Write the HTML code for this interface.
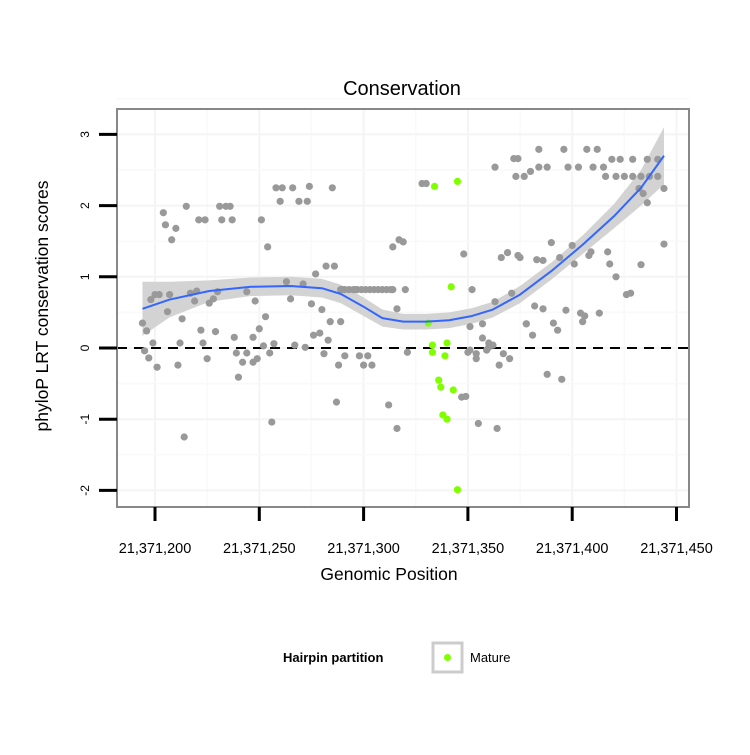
<!DOCTYPE html>
<html><head><meta charset="utf-8"><style>
body{margin:0;background:#fff;}
svg text{font-family:"Liberation Sans",sans-serif;}
</style></head><body>
<svg id="chart" width="750" height="750" xmlns="http://www.w3.org/2000/svg">
<rect width="750" height="750" fill="#fff"/>
<text x="402" y="95" font-size="20" text-anchor="middle">Conservation</text>
<rect x="117" y="109" width="572" height="398" fill="#fff"/>
<g id="grid"></g><g id="band"></g><g id="pts"></g><g id="smooth"></g>
<rect x="117" y="109" width="572" height="398" fill="none" stroke="#888" stroke-width="2"/>
<g id="axes"></g>
<text x="389" y="580" font-size="17.5" text-anchor="middle">Genomic Position</text>
<text transform="translate(48,306) rotate(-90)" font-size="17.5" text-anchor="middle">phyloP LRT conservation scores</text>
<g>
<text x="283" y="662" font-size="13" font-weight="bold">Hairpin partition</text>
<rect x="433" y="643" width="29" height="29" fill="#fff" stroke="#ccc" stroke-width="3"/>
<circle cx="447.5" cy="657.5" r="3.5" fill="#7fff00"/>
<text x="470" y="662" font-size="13">Mature</text>
</g>
</svg>
<script>
const xTicks=[21371200,21371250,21371300,21371350,21371400,21371450];
const xTickLabels=["21,371,200","21,371,250","21,371,300","21,371,350","21,371,400","21,371,450"];
const yTicks=[-2,-1,0,1,2,3];
const BASE=21371000;
const grayX=[194,196,199,195,197,201,198,200,202,207,206,213,212,211,204,205,210,208,215,221,224,232,237,231,234,236,217,219,220,226,228,230,222,223,225,229,238,244,248,251,254,253,250,247,239,242,244,247,249,252,255,257,240,256,214,258,261,266,274,285,260,269,273,263,271,265,277,282,286,275,280,284,289,276,279,283,267,272,281,288,291,298,304,300,302,312,287,316,319,314,316,321,320,328,330,317,348,363,372,374,384,396,407,412,373,377,380,384,388,398,403,410,415,416,419,423,429,436,441,421,425,429,433,437,441,444,432,434,436,433,444,390,400,408,366,369,374,375,383,386,394,401,409,417,418,421,426,428,371,363,382,386,397,405,413,378,391,393,406,404,378,381,357,362,360,360,350,370,351,354,359,365,367,388,395,347,349,355,351,357,354,364,352,289,291,293,295,297,299,301,303,305,307,309,311,313,314,290,296,302];
const grayY=[.35,.24,.07,-.04,-.14,-.27,.68,.75,.75,.75,.51,.41,.07,-.24,1.9,1.73,1.68,1.52,1.99,1.8,1.8,1.8,1.8,1.99,1.99,1.99,.77,.66,.8,.63,.69,.79,.25,.07,-.15,.23,.15,.79,.66,1.8,1.42,.44,.27,.15,-.07,-.2,-.07,-.2,-.15,.03,-.07,.06,-.41,-1.04,-1.25,2.25,2.25,2.25,2.27,2.25,2.06,2.06,2.06,.93,.9,.69,1.04,1.15,1.15,.62,.54,.37,.37,.18,.21,.11,.04,.01,-.08,-.24,-.11,-.11,-.24,-.24,-.11,-.8,-.76,-1.13,1.49,1.42,.55,-.06,.82,2.31,2.31,1.52,1.32,2.54,2.66,2.66,2.79,2.79,2.79,2.79,2.41,2.41,2.48,2.54,2.54,2.54,2.54,2.54,2.54,2.41,2.65,2.65,2.65,2.65,2.65,2.41,2.41,2.41,2.41,2.41,2.41,2.24,2.24,2.17,2.04,1.17,1.46,1.48,1.44,1.3,1.27,1.34,1.3,1.27,1.24,1.23,1.27,1.18,1.35,1.35,1.18,1.0,.75,.77,.77,.65,.59,.55,.53,.37,.49,.34,.35,.25,.45,.49,.34,.18,.14,.04,.07,.01,-.06,-.15,-.03,-.15,-.03,-.24,-.08,-.37,-.44,-.69,-.68,-1.06,.3,.34,-.08,-1.13,.82,.82,.82,.82,.82,.82,.82,.82,.82,.82,.82,.82,.82,.82,.82,.82,.82];
const matureX=[331,333,333,340,339,342,336,337,343,338,340,345,334,345];
const matureY=[.35,.04,-.06,.07,-.11,.86,-.45,-.55,-.59,-.94,-1.0,-1.99,2.27,2.34];
const smoothX=[194,207,226,246,265,280,289,300,309,319,330,341,352,362,375,390,405,420,433,444];
const smoothY=[.55,.68,.8,.86,.87,.84,.76,.58,.42,.37,.37,.39,.45,.54,.75,1.08,1.45,1.85,2.25,2.7];
const smoothSE=[.38,.25,.15,.13,.13,.13,.13,.13,.12,.11,.11,.11,.11,.11,.12,.12,.13,.17,.25,.4];

const NS="http://www.w3.org/2000/svg";
function sx(v){return 155+(v-BASE-200)*2.086;}
function sy(v){return 348-v*71.2;}
function mk(tag,attrs,parent){const e=document.createElementNS(NS,tag);for(const k in attrs)e.setAttribute(k,attrs[k]);parent.appendChild(e);return e;}
const grid=document.getElementById('grid');
xTicks.forEach((t,i)=>{
  let l=mk('line',{x1:sx(t),x2:sx(t),y1:109,y2:507,stroke:'#f4f4f4','stroke-width':2},grid);
  
  
  if(i<xTicks.length-1){let m=mk('line',{x1:sx(t+25),x2:sx(t+25),y1:109,y2:507,stroke:'#f9f9f9','stroke-width':1.5},grid);
  
  }
});
yTicks.forEach((t,i)=>{
  let l=mk('line',{x1:117,x2:689,y1:sy(t),y2:sy(t),stroke:'#f4f4f4','stroke-width':2},grid);
  
  
  let m=mk('line',{x1:117,x2:689,y1:sy(t+0.5),y2:sy(t+0.5),stroke:'#f9f9f9','stroke-width':1.5},grid);
  
  
});
let z=mk('line',{x1:117,x2:689,y1:sy(0),y2:sy(0),stroke:'#000','stroke-width':2,'stroke-dasharray':'10,7'},grid);


let up=smoothX.map((x,i)=>sx(BASE+x)+','+sy(smoothY[i]+smoothSE[i]));
let lo=smoothX.map((x,i)=>sx(BASE+x)+','+sy(smoothY[i]-smoothSE[i])).reverse();
let band=mk('polygon',{points:up.concat(lo).join(' '),fill:'#d3d3d3'},document.getElementById('band'));


const pts=document.getElementById('pts');
const nGray=Math.min(grayX.length,grayY.length);
for(let i=0;i<nGray;i++){
  let c=mk('circle',{cx:sx(BASE+grayX[i]),cy:sy(grayY[i]),r:3.6,fill:'#999'},pts);
  
  
}
const nMat=Math.min(matureX.length,matureY.length);
for(let i=0;i<nMat;i++){
  let c=mk('circle',{cx:sx(BASE+matureX[i]),cy:sy(matureY[i]),r:3.6,fill:'#7fff00'},pts);
  
  
}
let d=smoothX.map((x,i)=>(i?'L':'M')+sx(BASE+x)+','+sy(smoothY[i])).join(' ');
let sl=mk('path',{d:d,fill:'none',stroke:'#3366ff','stroke-width':2,'stroke-linejoin':'round'},document.getElementById('smooth'));


const ax=document.getElementById('axes');
xTicks.forEach((t,i)=>{
  let l=mk('line',{x1:sx(t),x2:sx(t),y1:507,y2:521,stroke:'#000','stroke-width':3},ax);
  
  
  let tx=mk('text',{x:sx(t),y:553,'font-size':14.5,'text-anchor':'middle'},ax);
  tx.textContent=xTickLabels[i];
  
  
});
yTicks.forEach(t=>{
  let l=mk('line',{x1:99,x2:117,y1:sy(t),y2:sy(t),stroke:'#000','stroke-width':3},ax);
  
  
  let tx=mk('text',{transform:`translate(89,${sy(t)}) rotate(-90)`,'font-size':12,'text-anchor':'middle'},ax);
  tx.textContent=String(t);
  
  
});
</script>
</body></html>
